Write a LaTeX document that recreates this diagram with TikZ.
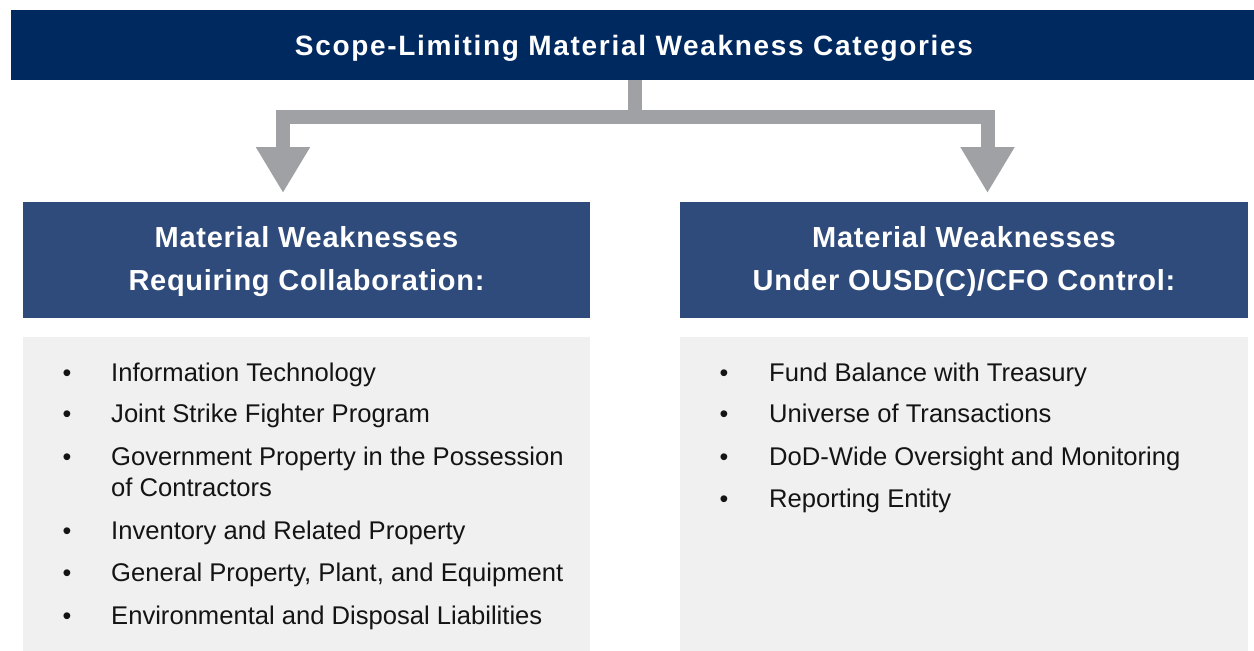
\documentclass[tikz,border=0pt]{standalone}
\usepackage{fontspec}
\setmainfont{Liberation Sans}
\usetikzlibrary{arrows.meta}
\definecolor{navy}{RGB}{0,41,96}
\definecolor{hdr}{RGB}{47,75,124}
\definecolor{arr}{RGB}{160,161,165}
\definecolor{panel}{RGB}{240,240,240}
\definecolor{txt}{RGB}{20,20,20}
\tikzset{
  titlefont/.style={font=\fontsize{28}{34}\selectfont\bfseries\addfontfeature{LetterSpace=6}, text=white, inner sep=0pt},
  hdrfont/.style={font=\fontsize{29}{43}\selectfont\bfseries\addfontfeature{LetterSpace=2.5}, text=white, inner sep=0pt, anchor=base},
  hdrbox/.style={fill=hdr, minimum width=567pt, minimum height=116pt, inner sep=0pt, anchor=north west},
  panelbox/.style={fill=panel, minimum width=567pt, minimum height=314pt, inner sep=0pt, anchor=north west},
  item/.style={font=\fontsize{25.6}{31}\selectfont, text=txt, inner sep=0pt, anchor=base west},
  bul/.style={font=\fontsize{25}{31}\selectfont, text=txt, inner sep=0pt, anchor=base},
  conn/.style={draw=arr, line width=14pt, line join=miter, -{Triangle[width=51pt,length=46pt]}},
  stemline/.style={draw=arr, line width=14pt, line join=miter},
}
\begin{document}
\begin{tikzpicture}[x=1pt,y=-1pt]
\useasboundingbox (0,0) rectangle (1254,651);
% top bar
\node[fill=navy, minimum width=1243pt, minimum height=70pt, inner sep=0pt, anchor=north west] (top) at (11,10) {};
\node[titlefont, anchor=base] (toptext) at (634,55) {Scope-Limiting Material Weakness Categories};
% header boxes
\node[hdrbox] (hl) at (23,202) {};
\node[hdrbox, minimum width=568pt] (hr) at (680,202) {};
\node[hdrfont] (hl1) at (306.5,247) {Material Weaknesses};
\node[hdrfont] (hl2) at (306.5,290) {Requiring Collaboration:};
\node[hdrfont] (hr1) at (964,247) {Material Weaknesses};
\node[hdrfont] (hr2) at (964,290) {Under OUSD(C)/CFO Control:};
% panels
\node[panelbox] (pl) at (23,337) {};
\node[panelbox, minimum width=568pt] (pr) at (680,337) {};
% connectors
\coordinate (j) at (635,117);
\coordinate (tl) at (283,193);
\coordinate (tr) at (987.5,193);
\draw[stemline] (j|-top.south) -- (j);
\draw[conn] (j) -| (tl);
\draw[conn] (j) -| (tr);
% left items
\foreach \y in {381,422,465,539,581,624} {\node[bul] at (67,\y) {•};}
\node[item] (l1) at (111,381) {Information Technology};
\node[item] (l2) at (111,422) {Joint Strike Fighter Program};
\node[item] (l3) at (111,465) {Government Property in the Possession};
\node[item] (l3b) at (111,496) {of Contractors};
\node[item] (l4) at (111,539) {Inventory and Related Property};
\node[item] (l5) at (111,581) {General Property, Plant, and Equipment};
\node[item] (l6) at (111,624) {Environmental and Disposal Liabilities};
% right items
\foreach \y in {381,422,465,507} {\node[bul] at (724,\y) {•};}
\node[item] (r1) at (769,381) {Fund Balance with Treasury};
\node[item] (r2) at (769,422) {Universe of Transactions};
\node[item] (r3) at (769,465) {DoD-Wide Oversight and Monitoring};
\node[item] (r4) at (769,507) {Reporting Entity};
\end{tikzpicture}
\end{document}
